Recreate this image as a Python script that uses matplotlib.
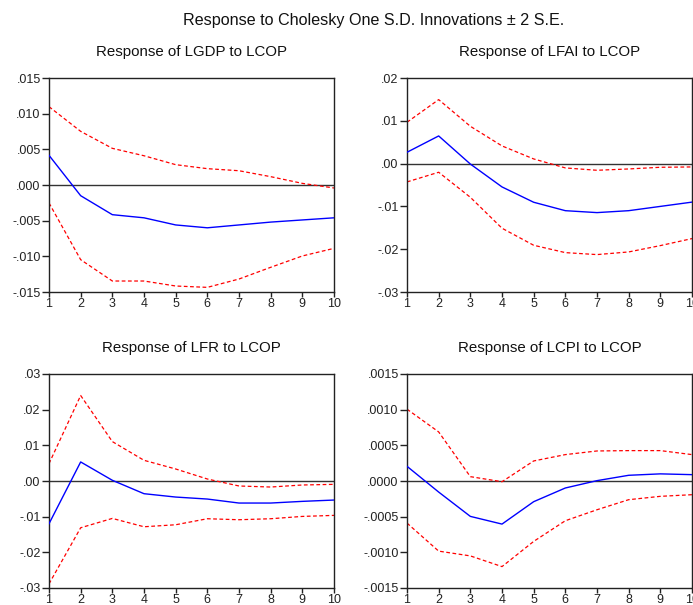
import matplotlib
matplotlib.use("Agg")
import matplotlib.pyplot as plt
from matplotlib.ticker import FixedLocator, FixedFormatter

plt.rcParams['font.family'] = ['Liberation Sans', 'DejaVu Sans']

periods = [1, 2, 3, 4, 5, 6, 7, 8, 9, 10]

# Panel 1: LGDP to LCOP
gdp_resp = [0.00416, -0.0015, -0.00416, -0.0046, -0.0056, -0.0060, -0.0056, -0.0052, -0.0049, -0.0046]
gdp_up = [0.01098, 0.00752, 0.00514, 0.0041, 0.00285, 0.00229, 0.0020, 0.00117, 0.00023, -0.00042]
gdp_lo = [-0.00252, -0.01047, -0.01346, -0.01346, -0.01416, -0.01435, -0.01318, -0.01154, -0.00995, -0.00888]

# Panel 2: LFAI to LCOP
fai_resp = [0.00265, 0.00646, -0.0001, -0.00545, -0.00903, -0.0110, -0.01145, -0.0110, -0.0100, -0.0090]
fai_up = [0.00966, 0.01495, 0.00872, 0.00413, 0.00109, -0.00101, -0.00156, -0.00125, -0.00086, -0.00078]
fai_lo = [-0.00428, -0.00202, -0.00787, -0.0151, -0.01908, -0.0208, -0.02126, -0.02064, -0.01916, -0.01752]

# Panel 3: LFR to LCOP
fr_resp = [-0.01198, 0.00534, 0.0002, -0.00356, -0.0045, -0.00506, -0.00618, -0.00618, -0.00571, -0.00534]
fr_up = [0.00487, 0.02397, 0.01105, 0.0058, 0.00337, 0.00056, -0.0014, -0.00169, -0.00112, -0.00094]
fr_lo = [-0.02884, -0.01311, -0.01049, -0.01283, -0.01227, -0.01058, -0.01086, -0.01058, -0.00993, -0.00964]

# Panel 4: LCPI to LCOP
cpi_resp = [0.000206, -0.000155, -0.000496, -0.000604, -0.00029, -0.000098, 0.000005, 0.00008, 0.0001, 0.000089]
cpi_up = [0.001007, 0.000688, 0.000061, -0.00001, 0.000281, 0.00037, 0.000421, 0.000426, 0.000426, 0.00037]
cpi_lo = [-0.00059, -0.000983, -0.00105, -0.0012, -0.000847, -0.000557, -0.000403, -0.000262, -0.000215, -0.000192]

titles = ["Response of LGDP to LCOP", "Response of LFAI to LCOP",
          "Response of LFR to LCOP", "Response of LCPI to LCOP"]

yticks1 = [-0.015, -0.010, -0.005, 0.0, 0.005, 0.010, 0.015]
ylabels1 = ["-.015", "-.010", "-.005", ".000", ".005", ".010", ".015"]
yticks2 = [-0.03, -0.02, -0.01, 0.0, 0.01, 0.02]
ylabels2 = ["-.03", "-.02", "-.01", ".00", ".01", ".02"]
yticks3 = [-0.03, -0.02, -0.01, 0.0, 0.01, 0.02, 0.03]
ylabels3 = ["-.03", "-.02", "-.01", ".00", ".01", ".02", ".03"]
yticks4 = [-0.0015, -0.0010, -0.0005, 0.0, 0.0005, 0.0010, 0.0015]
ylabels4 = ["-.0015", "-.0010", "-.0005", ".0000", ".0005", ".0010", ".0015"]

panels = [
    (gdp_resp, gdp_up, gdp_lo, yticks1, ylabels1),
    (fai_resp, fai_up, fai_lo, yticks2, ylabels2),
    (fr_resp, fr_up, fr_lo, yticks3, ylabels3),
    (cpi_resp, cpi_up, cpi_lo, yticks4, ylabels4),
]

W, H = 693, 605
fig = plt.figure(figsize=(W / 100, H / 100), dpi=100)

boxes = [(49, 78, 334, 292), (407, 78, 692, 292),
         (49, 374, 334, 588), (407, 374, 692, 588)]
title_y = [52, 52, 348, 348]

for i, (resp, up, lo, yt, yl) in enumerate(panels):
    x0, y0, x1, y1 = boxes[i]
    ax = fig.add_axes([x0 / W, 1 - y1 / H, (x1 - x0) / W, (y1 - y0) / H])
    ax.axhline(0, color='#333333', lw=1.0, zorder=1)
    ax.plot(periods, up, color='#ff0000', lw=0.9, ls=(0, (3, 2)), zorder=2)
    ax.plot(periods, lo, color='#ff0000', lw=0.9, ls=(0, (3, 2)), zorder=2)
    ax.plot(periods, resp, color='#0000ff', lw=1.0, zorder=3)
    ax.set_xlim(1, 10)
    ax.set_ylim(yt[0], yt[-1])
    ax.xaxis.set_major_locator(FixedLocator(periods))
    ax.xaxis.set_major_formatter(FixedFormatter([str(p) for p in periods]))
    ax.yaxis.set_major_locator(FixedLocator(yt))
    ax.yaxis.set_major_formatter(FixedFormatter(yl))
    ax.tick_params(axis='y', direction='out', length=5, width=1, labelsize=9, pad=1, colors='#222222')
    ax.tick_params(axis='x', direction='out', length=3.5, width=1, labelsize=9, pad=1, colors='#222222')
    for s in ax.spines.values():
        s.set_linewidth(1.0)
        s.set_color('#222222')
    fig.text(((x0 + x1) / 2) / W, 1 - title_y[i] / H, titles[i],
             ha='center', va='center', fontsize=10.8, color='#111111')

fig.text(374 / W, 1 - 21 / H, "Response to Cholesky One S.D. Innovations \u00b1 2 S.E.",
         ha='center', va='center', fontsize=11.6, color='#111111')

fig.savefig("out.png", dpi=100)
